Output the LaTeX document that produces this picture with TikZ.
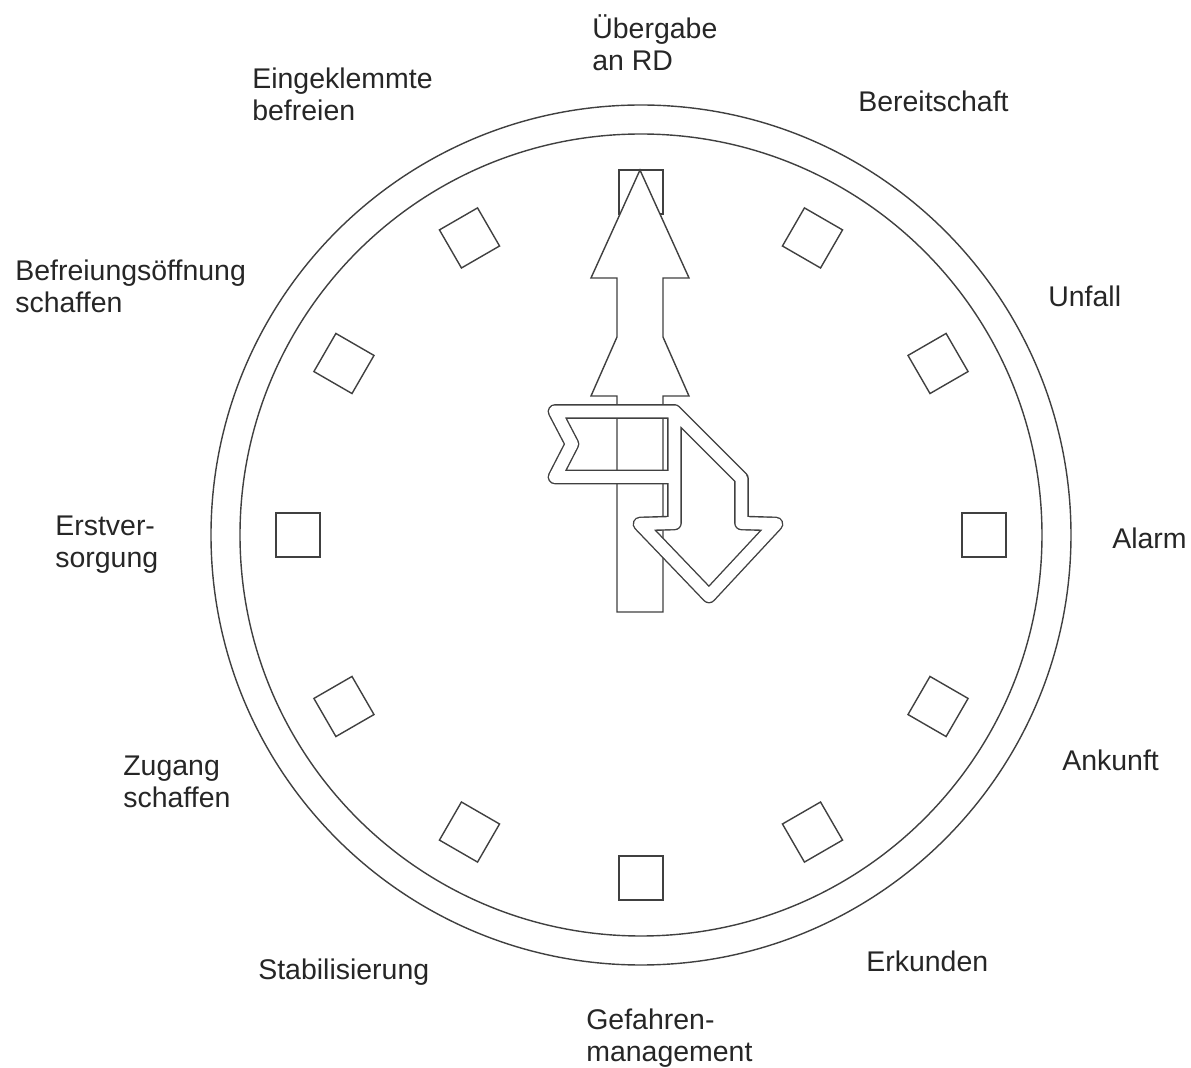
\documentclass[tikz,border=0pt]{standalone}
\usepackage{fontspec}
\setmainfont{Liberation Sans}
\newcommand\lh{\rule{0pt}{15pt}}
\tikzset{
  ln/.style={draw=black!75, line width=0.8pt},
  hourbox/.style={ln, rectangle, minimum size=0.88cm, inner sep=0pt},
  lab/.style={anchor=north west, inner sep=0pt, align=left, text=black!85,
    font=\fontsize{16.2}{18.1}\selectfont},
  band/.style={draw=black!75, line width=0.8pt, double=white, double distance=6.8pt, line join=round},
}
\begin{document}
\begin{tikzpicture}[x=0.02cm, y=0.02cm]
\useasboundingbox (-641,-533) rectangle (550,535);
\coordinate (O) at (0,0);
\draw[ln] (O) circle[radius=430];
\draw[ln] (O) circle[radius=401];
\foreach \h in {1,...,12}
  \node[hourbox, rotate=90-30*\h] (m\h) at ({90-30*\h}:343) {};
\draw[ln, fill=white] (-1,365) -- (48,257) -- (22,257) -- (22,198) -- (48,139) -- (22,139)
  -- (22,-77) -- (-24,-77) -- (-24,139) -- (-50,139) -- (-24,198) -- (-24,257) -- (-50,257) -- cycle;
\draw[band] (-86,123.5) -- (33.5,123.5) -- (33.5,58) -- (-86,58) -- (-69,91) -- cycle
  (33.5,123.5) -- (100.5,56.5) -- (100.5,12) -- (135,11) -- (68,-61) -- (-1,11) -- (33.5,12) -- cycle;
\node[lab] (l12) at (-49,523) {\lh Übergabe\\an RD};
\node[lab] (l1) at (217,450) {\lh Bereitschaft};
\node[lab] (l2) at (407,255) {\lh Unfall};
\node[lab] (l3) at (471,13) {\lh Alarm};
\node[lab] (l4) at (421,-209) {\lh Ankunft};
\node[lab] (l5) at (225,-410) {\lh Erkunden};
\node[lab] (l6) at (-55,-468) {\lh Gefahren-\\management};
\node[lab] (l7) at (-383,-418) {\lh Stabilisierung};
\node[lab] (l8) at (-518,-214) {\lh Zugang\\schaffen};
\node[lab] (l9) at (-586,26) {\lh Erstver-\\sorgung};
\node[lab] (l10) at (-626,281) {\lh Befreiungsöffnung\\schaffen};
\node[lab] (l11) at (-389,473) {\lh Eingeklemmte\\befreien};
\end{tikzpicture}
\end{document}
